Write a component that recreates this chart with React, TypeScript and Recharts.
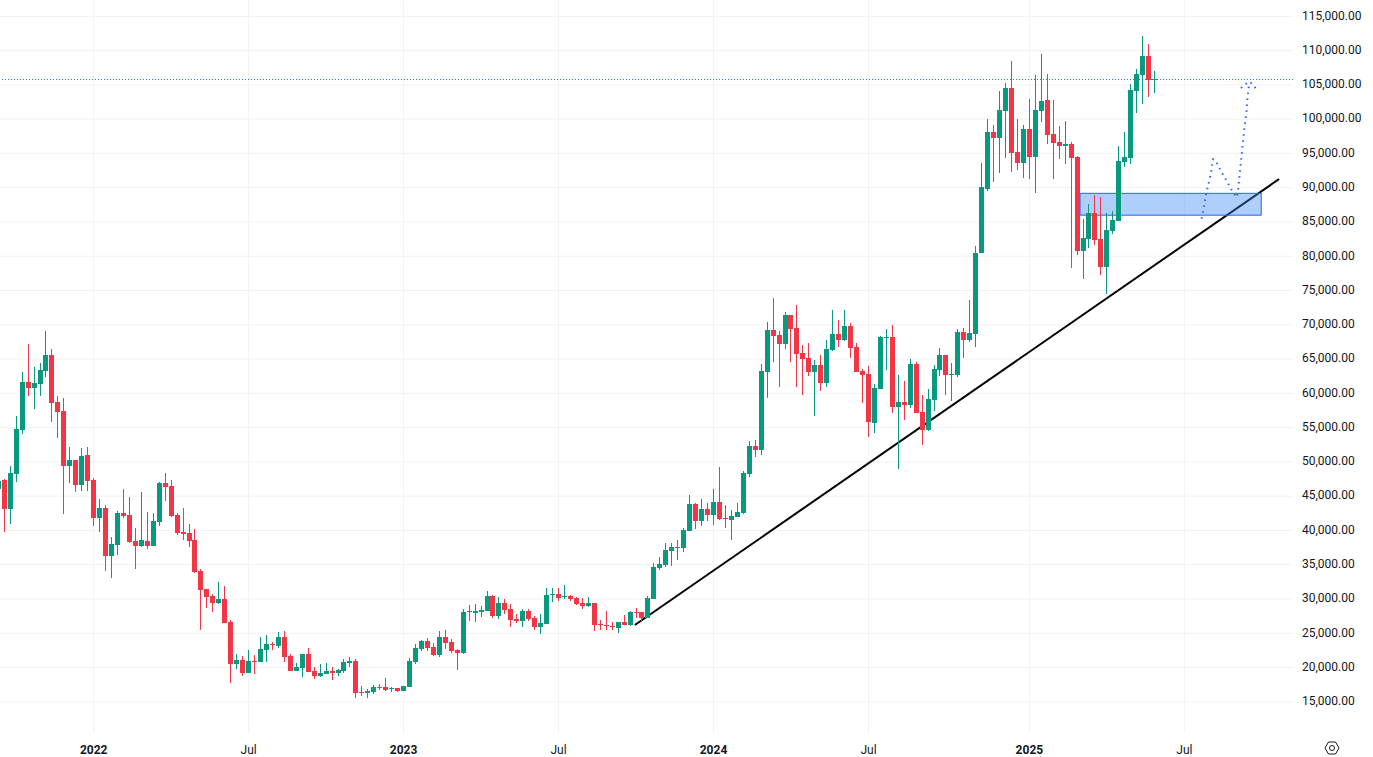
import { ComposedChart, Bar, Line, XAxis, YAxis, CartesianGrid, ReferenceLine, ReferenceArea } from "recharts";

const opens = [
  46000, 47300, 43080, 48180, 54590, 61590, 60720, 61300, 63200, 65530,
  58680, 57360, 49350, 50220, 46580, 50950, 47300, 41760, 43220, 36220,
  37830, 42490, 42200, 38410, 37680, 38410, 37680, 41180, 46870, 46430,
  42200, 39720, 39580, 38560, 34040, 31410, 30390, 29370, 29950, 26600,
  20480, 21050, 19160, 20910, 20760, 22510, 23380, 23090, 24400, 21630,
  19450, 19890, 21930, 19450, 18720, 19010, 19450, 19160, 19450, 20610,
  20910, 16390, 16240, 16390, 17120, 17120, 16820, 16970, 16530, 17120,
  20760, 22660, 23820, 22950, 21780, 24400, 23680, 22510, 22070, 28200,
  27910, 28050, 28200, 30380, 27470, 29360, 28490, 27030, 26740, 28200,
  27180, 25860, 26300, 30530, 30680, 30240, 30380, 30090, 29360, 28930,
  29360, 26300, 26150, 26010, 25720, 26590, 26150, 28050, 28050, 27180,
  30050, 34560, 35000, 37040, 37480, 37480, 39960, 43900, 41420, 43170,
  42290, 44190, 41860, 41560, 42000, 42580, 48270, 52350, 51770, 63140,
  69270, 68540, 67220, 71450, 69560, 65910, 65180, 63140, 64160, 61540,
  66350, 68680, 67810, 69850, 66790, 63290, 62850, 55700, 60660, 68090,
  68240, 58030, 58760, 58320, 64300, 57300, 54680, 59050, 63430, 65610,
  62700, 62700, 68970, 67800, 68670, 80450, 89780, 98090, 97220, 101150,
  104510, 95180, 93570, 98530, 94450, 101150, 102760, 97800, 96630, 96050,
  96340, 94450, 80740, 82490, 86280, 82490, 78410, 83660, 85120, 93720,
  94300, 104070, 106400, 109170, 105820,
];

const closes = [
  47250, 43080, 48330, 54740, 61590, 60720, 61450, 63340, 65530, 58530,
  57220, 49350, 50220, 46580, 50800, 47160, 41760, 43220, 36220, 37970,
  42490, 42050, 38260, 37680, 38560, 37680, 41330, 46870, 46280, 42050,
  39580, 39430, 38410, 33890, 31270, 30250, 29370, 29950, 26450, 20480,
  21060, 19160, 20910, 20760, 22660, 23380, 23240, 24400, 21490, 19450,
  20030, 21930, 19300, 18720, 19160, 19450, 19160, 19590, 20760, 20910,
  16240, 16240, 16530, 17120, 16970, 16680, 16970, 16530, 17260, 20910,
  22800, 23820, 22800, 21780, 24400, 23530, 22370, 22070, 28050, 28050,
  28200, 28340, 30380, 27470, 29360, 28340, 26880, 26740, 28200, 27030,
  25860, 26450, 30530, 30680, 30090, 30380, 29950, 29220, 28930, 29360,
  26150, 26150, 26010, 25860, 26590, 26150, 28050, 27910, 27180, 30090,
  34710, 35150, 37190, 37630, 37630, 40100, 43900, 41420, 43170, 42290,
  44190, 41710, 41710, 42150, 42730, 48410, 52350, 51770, 63290, 69270,
  68390, 67220, 71450, 69410, 65770, 65040, 63140, 64160, 61540, 66500,
  68680, 67810, 69850, 66640, 63140, 62700, 55850, 60800, 68240, 68240,
  58030, 58760, 58320, 64300, 57160, 54680, 59200, 63570, 65610, 62700,
  62840, 68970, 67800, 68820, 80480, 90070, 98090, 97220, 101300, 104510,
  95030, 93570, 98530, 94450, 101300, 102610, 97650, 96490, 96050, 96340,
  94300, 80740, 82640, 86280, 82350, 78410, 83800, 85260, 93860, 94450,
  104220, 106550, 109170, 105670, 105920,
];

const highs = [
  47450, 47450, 49350, 56640, 63050, 67130, 63780, 64360, 69030, 66400,
  59550, 59260, 52120, 50220, 51970, 52120, 47600, 44530, 43660, 38990,
  42790, 46000, 44830, 40310, 45550, 42640, 42490, 47010, 48330, 47300,
  42490, 43220, 40890, 40160, 34330, 31410, 30680, 32430, 31850, 26890,
  21930, 21630, 22510, 21780, 24400, 24700, 23680, 25130, 25280, 21930,
  20610, 21930, 22800, 20030, 20470, 20610, 20030, 19740, 21200, 21490,
  21200, 17260, 16820, 17410, 17550, 18430, 17120, 16970, 17260, 21340,
  23380, 23970, 24260, 23530, 25280, 25430, 24110, 22660, 28490, 29070,
  29220, 28930, 31110, 30530, 30240, 29950, 29220, 27760, 28490, 28490,
  27470, 27760, 31550, 31550, 31550, 31990, 30530, 30240, 30090, 30240,
  29360, 26880, 28200, 26590, 26590, 27610, 28200, 28630, 28050, 30380,
  35290, 36170, 38210, 38210, 38650, 40400, 45210, 44040, 44630, 44040,
  46080, 49290, 43750, 43020, 44040, 48710, 53080, 53230, 64310, 70430,
  73930, 69120, 71890, 71450, 72910, 67080, 67370, 64890, 65620, 67810,
  72180, 70720, 72180, 70290, 67370, 63580, 64020, 61390, 68380, 69400,
  69990, 62700, 61820, 65030, 64590, 59780, 60660, 64160, 66640, 65610,
  64450, 69400, 69550, 73630, 81510, 93570, 99990, 99110, 104070, 105240,
  108440, 99990, 99110, 102900, 106400, 109470, 106550, 102760, 98970, 99700,
  96630, 94590, 85410, 87600, 88910, 88620, 86280, 86570, 96050, 98090,
  105090, 107280, 112090, 110920, 106990,
];

const lows = [
  44530, 39770, 40890, 47010, 54010, 59550, 57660, 59550, 62320, 55760,
  53430, 42350, 46870, 45550, 45700, 45700, 40600, 39720, 34040, 33020,
  36370, 41760, 38120, 34330, 37540, 37240, 37680, 40600, 44240, 41910,
  39290, 38560, 37540, 33750, 25430, 28640, 28060, 29220, 26450, 17710,
  19750, 18720, 19160, 19010, 20760, 20760, 22510, 22800, 20760, 19450,
  19450, 18570, 19300, 18280, 18570, 19010, 18140, 18720, 19160, 20030,
  15510, 15800, 15510, 16090, 16680, 16530, 16390, 16390, 16530, 17120,
  20470, 22370, 22370, 21630, 21490, 22660, 22070, 19590, 21930, 26740,
  26590, 27320, 28200, 27180, 27030, 27760, 25860, 26450, 25860, 26740,
  25430, 24840, 26300, 29510, 29650, 29950, 29650, 29070, 28490, 28780,
  25280, 25430, 25430, 25430, 24990, 26150, 26010, 27180, 26590, 27180,
  30050, 34270, 34710, 34860, 35730, 36900, 39960, 40250, 40690, 41420,
  40830, 41560, 40400, 38650, 42000, 42440, 47830, 50750, 51040, 59350,
  64600, 60950, 66500, 64600, 60950, 59790, 62560, 56730, 60370, 60950,
  66200, 66790, 67660, 65180, 63140, 58620, 53660, 54240, 60660, 63430,
  57160, 49000, 56140, 57890, 57160, 52490, 54530, 57450, 62550, 59780,
  58910, 62410, 65180, 67510, 66780, 80450, 89490, 90800, 92110, 94300,
  92260, 92550, 91390, 91240, 89200, 99550, 96340, 91240, 94150, 93430,
  78260, 80160, 76660, 81180, 81620, 77240, 74470, 83220, 85120, 92990,
  93430, 100860, 102180, 103200, 103780,
];

const priceTicks = [
  15000, 20000, 25000, 30000, 35000, 40000, 45000, 50000, 55000, 60000, 65000,
  70000, 75000, 80000, 85000, 90000, 95000, 100000, 105000, 110000, 115000,
];
const timeTicks = [16, 42, 68, 94, 120, 146, 173, 199];
const timeLabels = ["2022", "Jul", "2023", "Jul", "2024", "Jul", "2025", "Jul"];

const lastPrice = 105780;

// drawings on top of the candles
const trendWeeks = [106.8, 214.9];
const trendPrices = [26215, 91270];
const zoneWeeks = [181.5, 211.9];
const zonePrices = [85990, 89180];

const pathWeeks = [201.9, 202.3, 202.6, 203.1, 203.5, 203.8, 204.2, 205.1, 206.1, 207.1, 207.8, 208, 208.3, 208.7, 209, 209.4, 209.6, 209.9];
const pathPrices = [85480, 87230, 88930, 90730, 92330, 94140, 94040, 92480, 90980, 89420, 88600, 89420, 92100, 95500, 98170, 100850, 103270, 105370];
const arrowWeeks = [208.5, 209.3, 210, 210.7, 211.3];
const arrowPrices = [104540, 105130, 105460, 104830, 104100];

const UP = "#089981";
const DOWN = "#F23645";
const TEXT = "#131722";
const BLUE = "#2962FF";

const candles = opens.map((open, i) => ({
  week: i,
  open,
  close: closes[i],
  high: highs[i],
  low: lows[i],
}));
const projection = pathWeeks.map((week, i) => ({ week, price: pathPrices[i] }));
const arrow = arrowWeeks.map((week, i) => ({ week, price: arrowPrices[i] }));

function Candle(props: any) {
  const { x, y, width, height, payload } = props;
  const top = Math.min(y, y + height);
  const range = Math.abs(height);
  const perUnit = range / (payload.high - payload.low);
  const bodyTop = top + (payload.high - Math.max(payload.open, payload.close)) * perUnit;
  const bodyBottom = top + (payload.high - Math.min(payload.open, payload.close)) * perUnit;
  const color = payload.close >= payload.open ? UP : DOWN;
  const center = x + width / 2;
  return (
    <g shapeRendering="crispEdges" fill={color}>
      <rect x={Math.round(center - 0.5)} y={top} width={1} height={range} />
      <rect
        x={Math.round(center - 2.5)}
        y={Math.round(bodyTop)}
        width={5}
        height={Math.max(1, Math.round(bodyBottom) - Math.round(bodyTop))}
      />
    </g>
  );
}

function TimeTick(props: any) {
  const { x, y, payload } = props;
  const label = timeLabels[timeTicks.indexOf(payload.value)];
  return (
    <text
      x={x}
      y={y}
      dy={13}
      textAnchor="middle"
      fontSize={12}
      fontWeight={/^\d/.test(label) ? 700 : 400}
      fontFamily="Roboto, sans-serif"
      fill={TEXT}
    >
      {label}
    </text>
  );
}

export default function App() {
  return (
    <div style={{ position: "absolute", left: 0, top: 0, width: 1373, height: 757, overflow: "hidden", background: "#fff" }}>
      <ComposedChart width={1373} height={757} data={candles} margin={{ top: 0, right: 0, bottom: 0, left: 0 }}>
        <CartesianGrid stroke="#f2f2f3" strokeWidth={1} syncWithTicks />
        <XAxis
          dataKey="week"
          type="number"
          domain={[0.2785, 217.23]}
          allowDataOverflow
          ticks={timeTicks}
          interval={0}
          height={24}
          tick={<TimeTick />}
          tickLine={false}
          axisLine={false}
        />
        <YAxis
          orientation="right"
          width={80}
          domain={[10462, 117378]}
          allowDataOverflow
          ticks={priceTicks}
          interval={0}
          tickLine={false}
          axisLine={false}
          tickMargin={3}
          tick={{ fontSize: 12, fill: TEXT, fontFamily: "Roboto, sans-serif", textAnchor: "start", dy: -1 }}
          tickFormatter={(v: number) => v.toLocaleString("en-US", { minimumFractionDigits: 2 })}
        />
        <ReferenceLine
          segment={[
            { x: trendWeeks[0], y: trendPrices[0] },
            { x: trendWeeks[1], y: trendPrices[1] },
          ]}
          stroke="#000"
          strokeWidth={2}
          zIndex={50}
        />
        <ReferenceArea
          x1={zoneWeeks[0]}
          x2={zoneWeeks[1]}
          y1={zonePrices[0]}
          y2={zonePrices[1]}
          fill="#3484F5"
          fillOpacity={0.4}
          stroke={BLUE}
          strokeWidth={1}
          zIndex={60}
        />
        <Bar dataKey={(d: any) => [d.low, d.high]} barSize={5} shape={<Candle />} isAnimationActive={false} zIndex={300} />
        <ReferenceLine y={lastPrice} stroke={UP} strokeWidth={1} strokeDasharray="1 2" zIndex={350} />
        <Line
          data={projection}
          dataKey="price"
          stroke={BLUE}
          strokeWidth={2}
          strokeDasharray="1.5 4.5"
          dot={false}
          activeDot={false}
          isAnimationActive={false}
        />
        <Line
          data={arrow}
          dataKey="price"
          stroke={BLUE}
          strokeWidth={2}
          strokeDasharray="1.5 4.5"
          dot={false}
          activeDot={false}
          isAnimationActive={false}
        />
      </ComposedChart>
      <svg width={16} height={14} style={{ position: "absolute", left: 1324, top: 741 }}>
        <path d="M1 7 L4.5 1 H11.5 L15 7 L11.5 13 H4.5 Z" fill="none" stroke={TEXT} strokeWidth={1} />
        <circle cx={8} cy={7} r={2.5} fill="none" stroke={TEXT} strokeWidth={1} />
      </svg>
    </div>
  );
}
